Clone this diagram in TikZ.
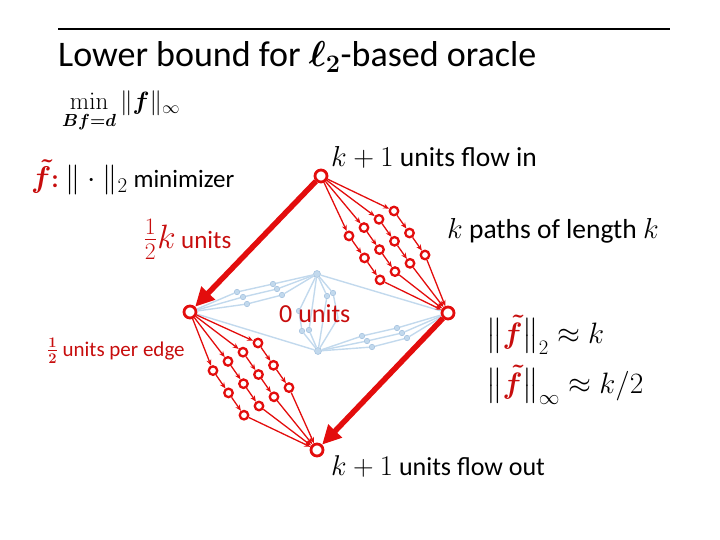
\documentclass[tikz,border=0pt]{standalone}
\usepackage{fix-cm}
\usepackage{amsmath,bm}
\usepackage[no-math]{fontspec}
\setmainfont{Carlito}
\usetikzlibrary{arrows.meta}
\definecolor{PathClr}{rgb}{0.89,0.05,0.05}
\definecolor{TextClr}{rgb}{0.78,0.05,0.05}
\definecolor{ZeroClr}{rgb}{0.76,0.85,0.93}
\definecolor{ZeroDotClr}{rgb}{0.66,0.77,0.88}
\newcommand{\mbig}[2][1.12]{\scalebox{#1}{$#2$}}

\begin{document}
\begin{tikzpicture}[x=1pt,y=-1pt,
  bignode/.style={circle,draw=PathClr,line width=2.8pt,fill=white,inner sep=0pt,minimum size=12pt},
  smallnode/.style={circle,draw=PathClr,line width=2.3pt,fill=white,inner sep=0pt,minimum size=8.5pt},
  flowedge/.style={draw=PathClr,line width=1.3pt,-{Stealth[length=6pt,width=5pt]}},
  bigarrow/.style={draw=PathClr,line width=5.5pt,-{Triangle[length=19pt,width=18pt]}},
  zeroedge/.style={draw=ZeroClr,line width=1.4pt},
  zerodot/.style={circle,fill=ZeroClr,draw=ZeroDotClr,line width=0.6pt,inner sep=0pt,minimum size=5.5pt},
  txt/.style={anchor=base west,inner sep=0pt}]
\useasboundingbox (0,0) rectangle (720,540);

\draw[line width=2pt] (58,29) -- (670,29);
\node[txt] (title) at (58,67) {\fontsize{36}{42}\selectfont Lower bound for $\bm{\ell_2}$-based oracle};

\node[txt] (objective) at (62,110) {\fontsize{25}{30}\selectfont $\min\limits_{\bm{Bf=d}}\|\bm{f}\|_\infty$};
\node[txt] (minimizer) at (31,188) {\fontsize{25}{30}\selectfont \textcolor{TextClr}{\mbig[1.2]{\bm{\tilde f}}\textbf{:}} \mbig[1.2]{\|\cdot\|_2} minimizer};

% main nodes
\node[bignode] (S) at (321,176) {};
\node[bignode] (L) at (190,312) {};
\node[bignode] (R) at (448,313) {};
\node[bignode] (T) at (317,450) {};

% k paths of length k
\foreach \i in {1,...,4}{
  \foreach \j in {1,2,3}{
    \node[smallnode] (u\i\j) at ({394+(\j-1)*15.5-(\i-1)*15},{211+(\j-1)*22+(\i-1)*8.3}) {};
    \node[smallnode] (w\i\j) at ({258+(\j-1)*15.5-(\i-1)*15},{343+(\j-1)*22.3+(\i-1)*9.2}) {};
  }
}

% zero flow part
\node[zerodot,minimum size=7pt] (M1) at (317,274) {};
\node[zerodot,minimum size=7pt] (M2) at (318,351) {};
\foreach \i/\ax/\ay/\bx/\by in {1/237/292/273/284,2/243/297/277/289,3/247/304/282/295}{
  \node[zerodot] (za\i) at (\ax,\ay) {};
  \node[zerodot] (zb\i) at (\bx,\by) {};
  \draw[zeroedge] (L) -- (za\i) -- (zb\i) -- (M1);
}
\foreach \i/\ax/\ay/\bx/\by in {1/362/336/397/328,2/367/341/402/333,3/372/347/407/338}{
  \node[zerodot] (zc\i) at (\ax,\ay) {};
  \node[zerodot] (zd\i) at (\bx,\by) {};
  \draw[zeroedge] (M2) -- (zc\i) -- (zd\i) -- (R);
}
\node[zerodot] (ze1) at (327,296) {};
\node[zerodot] (ze2) at (333,293) {};
\node[zerodot] (zf1) at (302,331) {};
\node[zerodot] (zf2) at (309,330) {};
\node[zerodot] (zg) at (299,311) {};
\draw[zeroedge] (M1) -- (zg) -- (zf1) -- (M2);
\draw[zeroedge] (M1) -- (zf2) -- (M2);
\draw[zeroedge] (M1) -- (ze1) -- (M2);
\draw[zeroedge] (M1) -- (ze2) -- (338,318) -- (M2);
\draw[zeroedge] (L) -- (M2);
\draw[zeroedge] (M1) -- (R);

% red flow
\foreach \i in {1,...,4}{
  \draw[flowedge] (S) -- (u\i1);
  \draw[flowedge] (u\i1) -- (u\i2);
  \draw[flowedge] (u\i2) -- (u\i3);
  \draw[flowedge] (u\i3) -- (R);
  \draw[flowedge] (L) -- (w\i1);
  \draw[flowedge] (w\i1) -- (w\i2);
  \draw[flowedge] (w\i2) -- (w\i3);
  \draw[flowedge] (w\i3) -- (T);
}
\draw[bigarrow] (S) -- (L);
\draw[bigarrow] (R) -- (T);

\node[txt] (flowin) at (331,167) {\fontsize{27.5}{32}\selectfont \mbig[1.05]{k+1} units flow in};
\node[txt] (paths) at (447,239) {\fontsize{27.5}{32}\selectfont \mbig[1.05]{k} paths of length \mbig[1.05]{k}};
\node[txt] (halfk) at (143,248) {\fontsize{25}{30}\selectfont\color{TextClr} \mbig[1.35]{\frac{1}{2}k} units};
\node[txt] (zerounits) at (279,322) {\fontsize{26}{30}\selectfont\color{TextClr} 0 units};
\node[txt] (peredge) at (47,356) {\fontsize{21}{25}\selectfont\color{TextClr} $\frac{\bm 1}{\bm 2}$ units per edge};
\node[txt] (normtwo) at (486,343) {\fontsize{25}{30}\selectfont \mbig[1.18]{\bigl\|\textcolor{TextClr}{\bm{\tilde f}}\bigr\|_2\approx k}};
\node[txt] (norminf) at (486,393) {\fontsize{25}{30}\selectfont \mbig[1.18]{\bigl\|\textcolor{TextClr}{\bm{\tilde f}}\bigr\|_\infty\approx k/2}};
\node[txt] (flowout) at (331,475) {\fontsize{26}{32}\selectfont \mbig[1.1]{k+1} units flow out};

\end{tikzpicture}
\end{document}
